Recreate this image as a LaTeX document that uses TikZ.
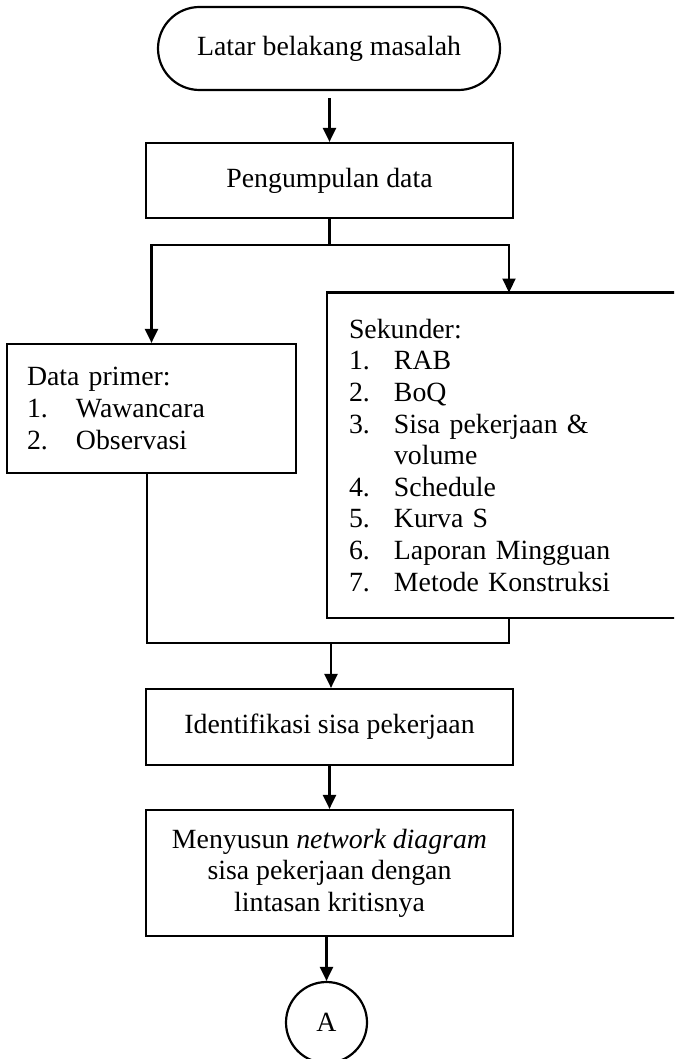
\documentclass[tikz,border=0pt]{standalone}
\usepackage{fontspec}
\setmainfont{Liberation Serif}
\usetikzlibrary{arrows.meta,calc}
\begin{document}
\begin{tikzpicture}[x=0.5pt,y=-0.5pt,
  line width=1.1pt,
  every node/.style={font=\fontsize{13.9pt}{15.8pt}\selectfont},
  box/.style={draw,rectangle,line width=1.1pt,minimum width=183.5pt,inner sep=0pt},
  flow/.style={-{Triangle[length=7pt,width=6.5pt]}}]
\useasboundingbox (0,0) rectangle (674,1059);
\clip (0,0) rectangle (674,1059);

\node[draw,rectangle,rounded corners=20.75pt,minimum width=171pt,minimum height=41.5pt,inner sep=0pt] (term) at (329,48.5) {Latar belakang masalah};
\node[box,minimum height=37.5pt] (peng) at (329.5,180.5) {Pengumpulan data};

\node[draw,rectangle,minimum width=144.5pt,minimum height=64.5pt,inner xsep=10pt,inner ysep=0pt,text width=124.5pt,align=left] (prim) at (151.5,408.5)
  {Data primer:\\
   \makebox[24.5pt][l]{1.}Wawancara\\
   \makebox[24.5pt][l]{2.}Observasi};

\node[draw,rectangle,minimum width=236.5pt,minimum height=162.75pt,inner xsep=11pt,inner ysep=0pt,text width=214.5pt,align=left] (sek) at (563.5,455.25)
  {Sekunder:\\
   \makebox[22.5pt][l]{1.}RAB\\
   \makebox[22.5pt][l]{2.}BoQ\\
   \makebox[22.5pt][l]{3.}Sisa pekerjaan \&\\
   \hspace*{22.5pt}volume\\
   \makebox[22.5pt][l]{4.}Schedule\\
   \makebox[22.5pt][l]{5.}Kurva S\\
   \makebox[22.5pt][l]{6.}Laporan Mingguan\\
   \makebox[22.5pt][l]{7.}Metode Konstruksi};

\node[box,minimum height=38pt] (iden) at (329.5,727) {Identifikasi sisa pekerjaan};
\node[box,minimum height=63pt,align=center] (meny) at (329.5,873)
  {Menyusun \textit{network diagram}\\sisa pekerjaan dengan\\lintasan kritisnya};
\node[draw,circle,minimum size=40.5pt,inner sep=0pt] (circ) at (326.5,1022.5) {A};

% connectors
\draw[flow,shorten <=3.5pt] (term.south -| peng.north) -- (peng.north);
\coordinate (split) at (329.5,245);
\coordinate (sekin) at (509,292.5);
\draw (peng.south) -- (split);
\draw[flow] (split) -| (prim.north);
\draw[flow] (split) -| (sekin);

\coordinate (pout) at (147,473);
\coordinate (sout) at (509,618);
\coordinate (mL) at (147,643);
\coordinate (mR) at (509,643);
\coordinate (merge) at (331,643);
\draw (pout) -- (mL) -- (mR) -- (sout);
\draw[flow] (merge) -- (merge |- iden.north);
\draw[flow] (iden.south) -- (meny.north);
\draw[flow] (meny.south -| circ.north) -- (circ.north);
\end{tikzpicture}
\end{document}
